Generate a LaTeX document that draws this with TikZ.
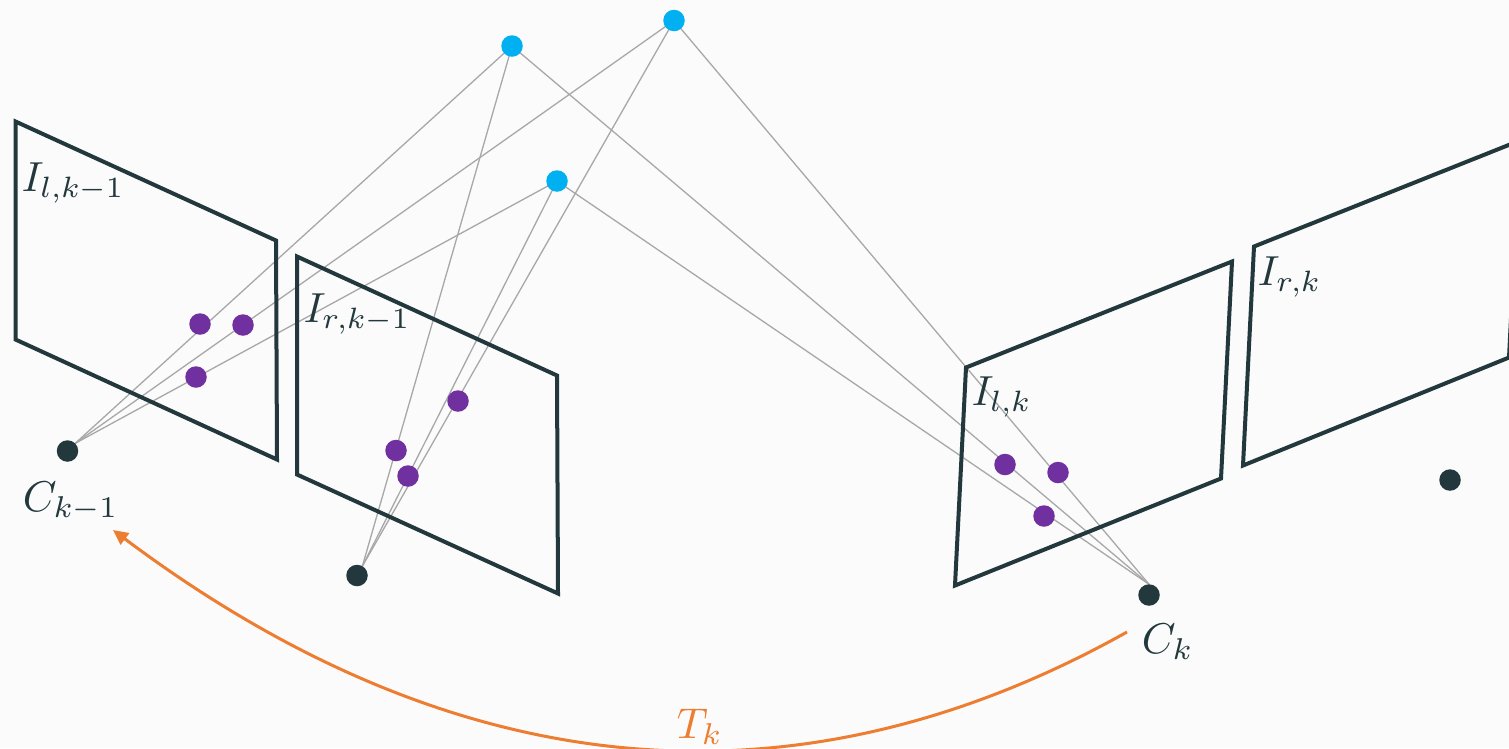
\documentclass[tikz,border=0pt]{standalone}
\usetikzlibrary{arrows.meta}
\definecolor{bgc}{HTML}{FBFBFB}
\definecolor{darkc}{HTML}{22383C}
\definecolor{purplec}{HTML}{7030A0}
\definecolor{bluec}{HTML}{00B0F0}
\definecolor{orangec}{HTML}{ED7D31}
\definecolor{rayc}{HTML}{A8A8A8}
\pgfdeclarelayer{under}
\pgfsetlayers{under,main}
\tikzset{
  dot/.style={circle,inner sep=0pt,outer sep=0pt,minimum size=#1},
  world/.style={dot=21.5pt,fill=bluec},
  feature/.style={dot=21.5pt,fill=purplec},
  camera/.style={dot=21.5pt,fill=darkc},
  ray/.style={draw=rayc,line width=1.3pt},
  plane/.style={draw=darkc,line width=4pt,line join=miter},
  lab/.style={anchor=base west,inner sep=0pt,text=darkc,scale=4.2},
  biglab/.style={anchor=base west,inner sep=0pt,text=darkc,scale=4.3},
  motion/.style={draw=orangec,line width=3pt,-{Triangle[length=15pt,width=14pt]}}
}
\begin{document}
\begin{tikzpicture}[x=1pt,y=-1pt]
\useasboundingbox (0,0) rectangle (1509,748);
\node[world] (b1) at (512,46) {};
\node[world] (b2) at (674,20.5) {};
\node[world] (b3) at (557,181) {};
\node[feature] (p1) at (200,324) {};
\node[feature] (p2) at (243,325) {};
\node[feature] (p3) at (196,377) {};
\node[feature] (p4) at (396,450.5) {};
\node[feature] (p5) at (408,476) {};
\node[feature] (p6) at (458,401) {};
\node[feature] (p7) at (1005,464.5) {};
\node[feature] (p8) at (1058,472.5) {};
\node[feature] (p9) at (1044,516) {};
\node[camera] (c1) at (67.5,451) {};
\node[camera] (c2) at (357,575.5) {};
\node[camera] (c3) at (1149,595) {};
\node[camera] (c4) at (1450,480) {};
\begin{pgfonlayer}{under}
\fill[bgc] (0,0) rectangle (1509,748);
\clip (0,0) rectangle (1509,748);
\draw[ray] (c1.45) -- (b1.center);
\draw[ray] (c1.45) -- (b2.center);
\draw[ray] (c1.45) -- (b3.center);
\draw[ray] (c2.60) -- (b1.center);
\draw[ray] (c2.60) -- (b2.center);
\draw[ray] (c2.60) -- (b3.center);
\draw[ray] (c3.90) -- (b1.center);
\draw[ray] (c3.90) -- (b2.center);
\draw[ray] (c3.90) -- (b3.center);
\draw[plane] (15.5,121.5) -- (276,240.5) -- (277,459.5) -- (15.5,339.5) -- cycle;
\draw[plane] (297,256.5) -- (557,375.5) -- (558,593.5) -- (297,474.5) -- cycle;
\draw[plane] (966,367.5) -- (1232,261.5) -- (1221,478.5) -- (955,585.5) -- cycle;
\draw[plane] (1254,246.5) -- (1520,140.5) -- (1509,357.5) -- (1243,465.5) -- cycle;
\end{pgfonlayer}
\node[lab] (l1) at (21,191) {$I_{l,k-1}$};
\node[lab] (l2) at (303,322) {$I_{r,k-1}$};
\node[lab] (l3) at (971,405) {$I_{l,k}$};
\node[lab] (l4) at (1257,285) {$I_{r,k}$};
\node[biglab] (l5) at (22,511) {$C_{k-1}$};
\node[biglab] (l6) at (1141,653) {$C_k$};
\node[biglab,text=orangec] (l7) at (676,738) {$T_k$};
\coordinate (ms) at (1127,632);
\coordinate (me) at (113,530);
\clip (0,0) rectangle (1509,748);
\draw[motion] (ms) .. controls (800,815) and (460,790) .. (me);
\end{tikzpicture}
\end{document}
